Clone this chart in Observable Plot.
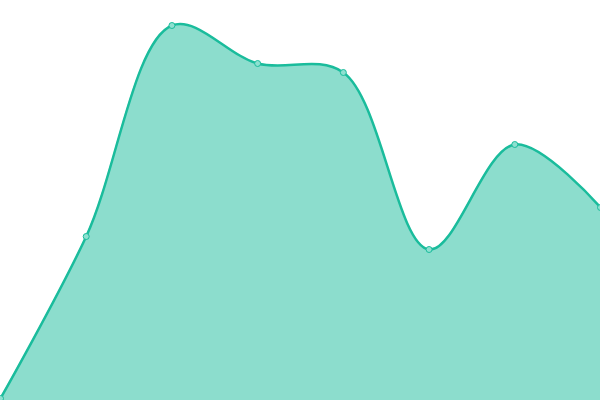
<!DOCTYPE html>
<html>
<head>
<meta charset="utf-8">
<script src="https://cdn.jsdelivr.net/npm/d3@7"></script>
<script src="https://cdn.jsdelivr.net/npm/@observablehq/plot@0.6"></script>
<style>
html, body { margin: 0; padding: 0; background: #fff; overflow: hidden; }
</style>
</head>
<body>
<div id="chart"></div>
<script>
const indices = [0, 1, 2, 3, 4, 5, 6, 7];
const values = [2, 164, 375, 337, 328, 151, 256, 193];

const data = indices.map((i, k) => ({ x: i, y: values[k] }));

const chart = Plot.plot({
  width: 600,
  height: 400,
  margin: 0,
  x: { domain: [0, 7], range: [0, 600], axis: null },
  y: { domain: [0, 400], range: [400, 0], axis: null },
  marks: [
    Plot.areaY(data, { x: "x", y: "y", curve: "catmull-rom", fill: "#1abc9c", fillOpacity: 0.5 }),
    Plot.lineY(data, { x: "x", y: "y", curve: "catmull-rom", stroke: "#1abc9c", strokeWidth: 2.5 }),
    Plot.dot(data, { x: "x", y: "y", r: 3, fill: "#8ee0d0", stroke: "#1abc9c", strokeWidth: 1 })
  ]
});
document.getElementById("chart").appendChild(chart);
</script>
</body>
</html>
